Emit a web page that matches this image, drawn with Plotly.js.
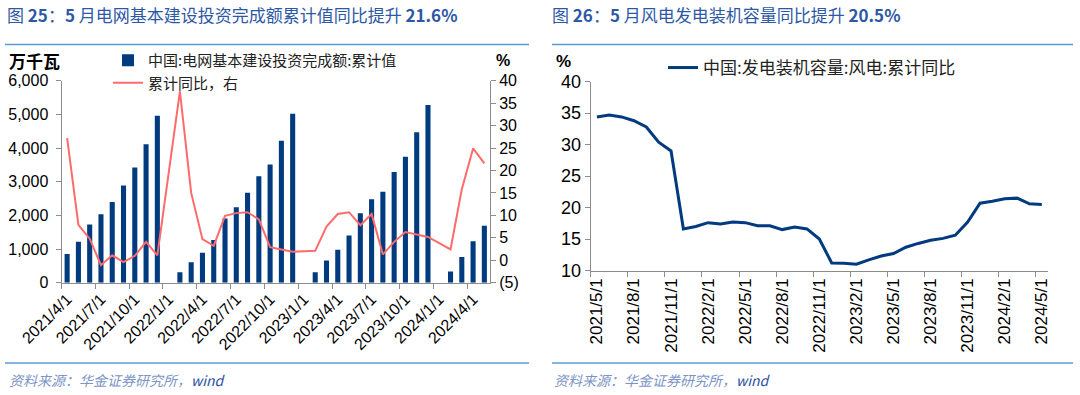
<!DOCTYPE html>
<html>
<head>
<meta charset="utf-8">
<script src="https://cdn.plot.ly/plotly-3.0.1.min.js"></script>
<style>
  html, body { margin: 0; padding: 0; background: #fff; }
  #chart { width: 1080px; height: 395px; }
</style>
</head>
<body>
<div id="chart"></div>
<script>
// ---------- Data ----------
const gridCats = ["2021/4/1","2021/5/1","2021/6/1","2021/7/1","2021/8/1","2021/9/1","2021/10/1","2021/11/1","2021/12/1",
  "2022/1/1","2022/2/1","2022/3/1","2022/4/1","2022/5/1","2022/6/1","2022/7/1","2022/8/1","2022/9/1","2022/10/1","2022/11/1","2022/12/1",
  "2023/1/1","2023/2/1","2023/3/1","2023/4/1","2023/5/1","2023/6/1","2023/7/1","2023/8/1","2023/9/1","2023/10/1","2023/11/1","2023/12/1",
  "2024/1/1","2024/2/1","2024/3/1","2024/4/1","2024/5/1"];
const gridInvest = [850,1220,1730,2030,2400,2890,3420,4110,4960,
  null,310,610,890,1270,1910,2240,2670,3160,3510,4220,5020,
  null,310,660,980,1400,2060,2480,2700,3290,3740,4470,5280,
  null,330,760,1230,1690];
const gridYoY = [27.2,7.9,4.8,-1.1,1.1,-0.4,1.0,4.1,1.1,
  null,37.6,15.0,4.7,3.2,9.9,10.5,10.7,9.1,2.9,2.4,1.9,
  null,2.1,7.5,10.3,10.7,7.8,10.3,1.3,4.1,6.3,5.8,5.2,
  null,2.4,15.8,24.9,21.6];

const windCats = ["2021/5/1","2021/6/1","2021/7/1","2021/8/1","2021/9/1","2021/10/1","2021/11/1","2021/12/1",
  "2022/1/1","2022/2/1","2022/3/1","2022/4/1","2022/5/1","2022/6/1","2022/7/1","2022/8/1","2022/9/1","2022/10/1","2022/11/1","2022/12/1",
  "2023/1/1","2023/2/1","2023/3/1","2023/4/1","2023/5/1","2023/6/1","2023/7/1","2023/8/1","2023/9/1","2023/10/1","2023/11/1","2023/12/1",
  "2024/1/1","2024/2/1","2024/3/1","2024/4/1","2024/5/1"];
const windYoY = [34.4,34.7,34.4,33.8,32.8,30.4,29.0,
  16.6,17.0,17.6,17.4,17.7,17.6,17.1,17.1,16.5,16.9,16.6,15.0,
  11.2,11.15,11.0,11.7,12.3,12.7,13.7,14.3,14.8,15.1,15.6,17.7,20.7,21.0,21.4,21.5,20.6,20.5];

const rightTickVals = [-5,0,5,10,15,20,25,30,35,40];
const rightTickText = ["(5)","0","5","10","15","20","25","30","35","40"];

// ---------- Styling ----------
const W = 1080, H = 395;
const px = v => v / W;
const py = v => 1 - v / H;
const NUM_FONT = "Liberation Sans, Arial, sans-serif";
const CJK_FONT = "Noto Sans CJK SC, Liberation Sans, sans-serif";
const NAVY = "#003a7f";
const RED = "#ff6b6b";
const AXIS = "#8c8c8c";
const TITLE_BLUE = "#2d58a6";
const RULE_BLUE = "#5b9bd5";

const traces = [
  {
    type: "bar", name: "中国:电网基本建设投资完成额:累计值",
    x: gridCats, y: gridInvest, xaxis: "x", yaxis: "y",
    marker: { color: NAVY }, legend: "legend"
  },
  {
    type: "scatter", mode: "lines", name: "累计同比，右",
    x: gridCats, y: gridYoY, xaxis: "x", yaxis: "y2",
    connectgaps: true, line: { color: RED, width: 2 }, legend: "legend"
  },
  {
    type: "scatter", mode: "lines", name: "中国:发电装机容量:风电:累计同比",
    x: windCats, y: windYoY, xaxis: "x2", yaxis: "y3",
    line: { color: NAVY, width: 3 }, legend: "legend2"
  }
];

const axisCommon = {
  showline: true, linecolor: AXIS, linewidth: 1,
  ticks: "outside", ticklen: 5, tickcolor: AXIS, tickwidth: 1,
  showgrid: false, zeroline: false
};

const layout = {
  width: W, height: H,
  margin: { l: 0, r: 0, t: 0, b: 0 },
  paper_bgcolor: "#fff", plot_bgcolor: "#fff",
  bargap: 0.55,
  showlegend: true,
  xaxis: Object.assign({}, axisCommon, {
    domain: [px(61.5), px(490)], anchor: "y",
    type: "category", range: [-0.5, 37.5],
    tickmode: "linear", tick0: 0, dtick: 3, tickson: "boundaries",
    tickangle: -45, tickfont: { family: NUM_FONT, size: 16, color: "#000" }
  }),
  yaxis: Object.assign({}, axisCommon, {
    domain: [py(282.7), py(80.7)], anchor: "x",
    range: [0, 6000], dtick: 1000, tickformat: ",",
    ticklabelstandoff: 4,
    tickfont: { family: NUM_FONT, size: 16, color: "#000" }
  }),
  yaxis2: Object.assign({}, axisCommon, {
    overlaying: "y", side: "right", anchor: "x",
    range: [-5, 40], tickmode: "array", tickvals: rightTickVals, ticktext: rightTickText,
    tickfont: { family: NUM_FONT, size: 16, color: "#000" }
  }),
  xaxis2: Object.assign({}, axisCommon, {
    domain: [px(590.7), px(1048)], anchor: "y3",
    type: "category", range: [-0.5, 36.5],
    tickmode: "linear", tick0: 0, dtick: 3, tickson: "boundaries",
    tickangle: -90, tickfont: { family: NUM_FONT, size: 17, color: "#000" }
  }),
  yaxis3: Object.assign({}, axisCommon, {
    domain: [py(270.5), py(81.7)], anchor: "x2",
    range: [10, 40], dtick: 5,
    tickfont: { family: NUM_FONT, size: 18, color: "#000" }
  }),
  legend: {
    x: px(108), y: py(44), xanchor: "left", yanchor: "top",
    bgcolor: "rgba(0,0,0,0)", itemwidth: 30,
    font: { family: CJK_FONT, size: 15, color: "#222" },
    traceorder: "normal"
  },
  legend2: {
    x: px(663), y: py(50), xanchor: "left", yanchor: "top",
    bgcolor: "rgba(0,0,0,0)", itemwidth: 30,
    font: { family: CJK_FONT, size: 17, color: "#222" }
  },
  annotations: [
    { xref: "paper", yref: "paper", x: px(5), y: py(15), xanchor: "left", yanchor: "middle", showarrow: false,
      text: "图 <b>25</b>：<b>5</b> 月电网基本建设投资完成额累计值同比提升 <b>21.6%</b>",
      font: { family: CJK_FONT, size: 17, color: TITLE_BLUE } },
    { xref: "paper", yref: "paper", x: px(550), y: py(15), xanchor: "left", yanchor: "middle", showarrow: false,
      text: "图 <b>26</b>：<b>5</b> 月风电发电装机容量同比提升 <b>20.5%</b>",
      font: { family: CJK_FONT, size: 17, color: TITLE_BLUE } },
    { xref: "paper", yref: "paper", x: px(7), y: py(61), xanchor: "left", yanchor: "middle", showarrow: false,
      text: "<b>万千瓦</b>", font: { family: CJK_FONT, size: 17, color: "#000" } },
    { xref: "paper", yref: "paper", x: px(494), y: py(60), xanchor: "left", yanchor: "middle", showarrow: false,
      text: "<b>%</b>", font: { family: NUM_FONT, size: 16, color: "#000" } },
    { xref: "paper", yref: "paper", x: px(554), y: py(62), xanchor: "left", yanchor: "middle", showarrow: false,
      text: "<b>%</b>", font: { family: NUM_FONT, size: 17, color: "#000" } },
    { xref: "paper", yref: "paper", x: px(7), y: py(380), xanchor: "left", yanchor: "middle", showarrow: false,
      text: "<i>资料来源：华金证券研究所，</i><i><span style=\"color:#2c50a0\">wind</span></i>",
      font: { family: CJK_FONT, size: 14, color: "#7d95c6" } },
    { xref: "paper", yref: "paper", x: px(552), y: py(380), xanchor: "left", yanchor: "middle", showarrow: false,
      text: "<i>资料来源：华金证券研究所，</i><i><span style=\"color:#2c50a0\">wind</span></i>",
      font: { family: CJK_FONT, size: 14, color: "#7d95c6" } }
  ],
  shapes: [
    { type: "line", xref: "paper", yref: "paper", x0: px(5), x1: px(529), y0: py(44.5), y1: py(44.5), line: { color: RULE_BLUE, width: 1.5 } },
    { type: "line", xref: "paper", yref: "paper", x0: px(552), x1: px(1073), y0: py(44.5), y1: py(44.5), line: { color: RULE_BLUE, width: 1.5 } },
    { type: "line", xref: "paper", yref: "paper", x0: px(5), x1: px(529), y0: py(363), y1: py(363), line: { color: RULE_BLUE, width: 1.5 } },
    { type: "line", xref: "paper", yref: "paper", x0: px(552), x1: px(1073), y0: py(363), y1: py(363), line: { color: RULE_BLUE, width: 1.5 } }
  ]
};

Plotly.newPlot("chart", traces, layout, { staticPlot: true, displayModeBar: false });
</script>
</body>
</html>
